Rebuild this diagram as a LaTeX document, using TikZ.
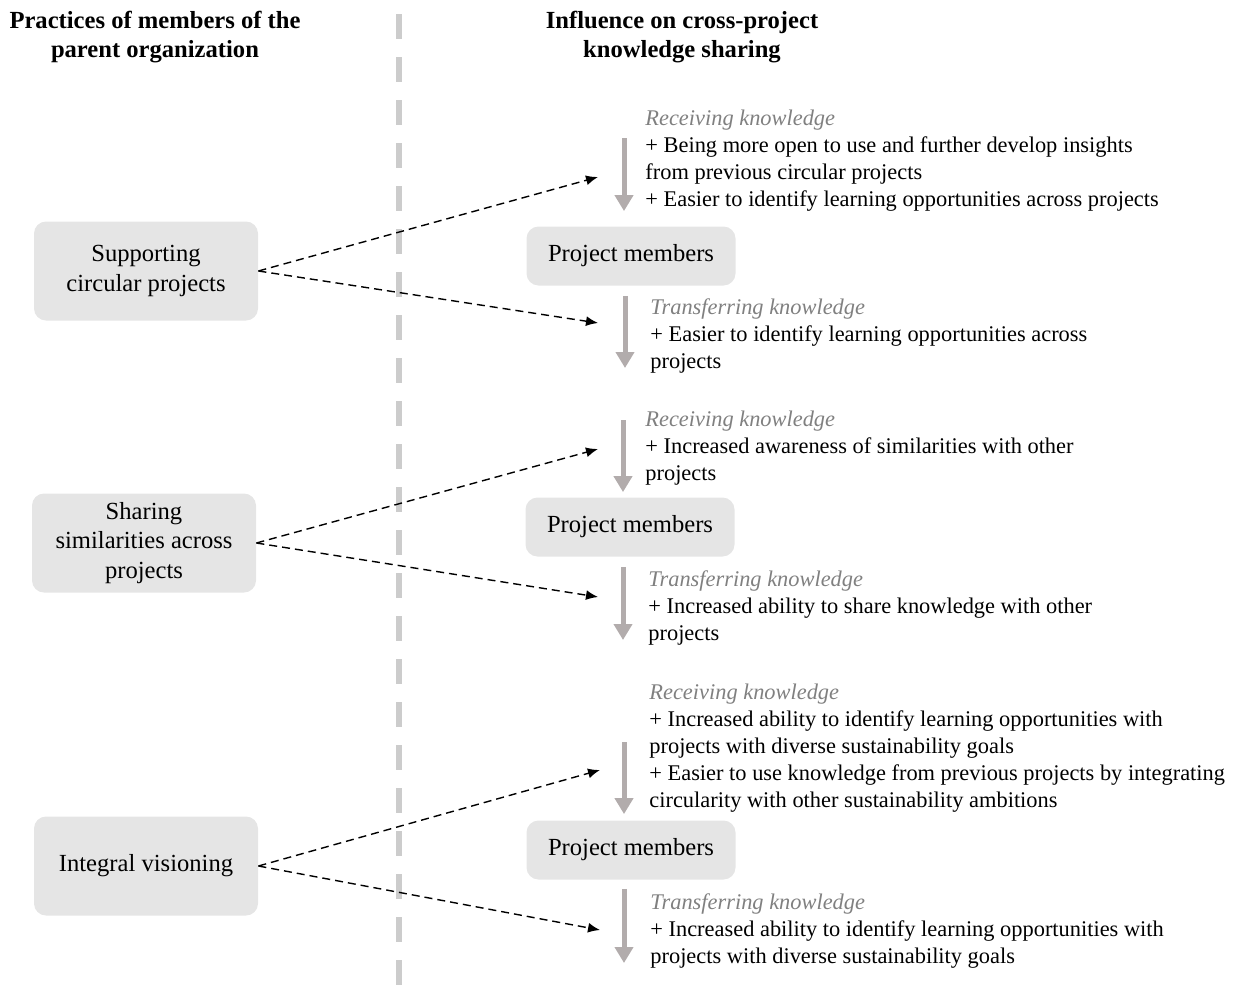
\documentclass[tikz,border=0pt]{standalone}
\usepackage{fontspec}
\setmainfont{Liberation Serif}
\usepackage{xcolor}
\usetikzlibrary{arrows.meta}
\definecolor{arrowgray}{RGB}{178,172,172}

\begin{document}
\begin{tikzpicture}[x=0.5pt,y=-0.5pt,
  txt/.style={font=\fontsize{11.2}{13.5}\selectfont},
  boxtxt/.style={font=\fontsize{12.3}{14.75}\selectfont},
  head/.style={font=\bfseries\fontsize{12.3}{14.5}\selectfont, align=center},
  practice/.style={boxtxt, fill=gray!20, rounded corners=6pt, minimum width=112pt,
    minimum height=49.5pt, align=center, inner sep=2pt},
  members/.style={boxtxt, fill=gray!20, rounded corners=6pt, minimum width=104.5pt,
    minimum height=29.5pt},
  effect/.style={txt, anchor=north west, align=left, inner sep=0pt},
  flow/.style={arrowgray, line width=2.5pt, -{Triangle[width=9pt,length=8pt]}},
  link/.style={dash pattern=on 4pt off 2.5pt, line width=0.7pt,
    -{Latex[length=6pt,width=5pt]}}]
  \useasboundingbox (0,0) rectangle (1235,985);

  % column headers
  \node[head] (hleft) at (155,37) {Practices of members of the\\parent organization};
  \node[head] (hright) at (682,37) {Influence on cross-project\\knowledge sharing};
  \draw[gray!40, line width=3pt, dash pattern=on 12.5pt off 9pt] (399,14) -- (399,985);

  % practices
  \node[practice] (sup) at (146,271) {Supporting\\circular projects};
  \node[practice] (sha) at (144,543) {Sharing\\similarities across\\projects};
  \node[practice] (vis) at (146,866) {Integral visioning};

  \node[members] (pm1) at (631,256) {Project members};
  \node[members] (pm2) at (630,527) {Project members};
  \node[members] (pm3) at (631,850) {Project members};

  % receiving / transferring flows
  \coordinate (r1) at (624,138);
  \coordinate (t1) at (625,368);
  \coordinate (r2) at (623,420);
  \coordinate (t2) at (623,640);
  \coordinate (r3) at (624,742);
  \coordinate (t3) at (624,963);
  \draw[flow, shorten >=7.5pt] (r1) -- (r1 |- pm1.north);
  \draw[flow, shorten <=5pt] (t1 |- pm1.south) -- (t1);
  \draw[flow, shorten >=2.5pt] (r2) -- (r2 |- pm2.north);
  \draw[flow, shorten <=5pt] (t2 |- pm2.south) -- (t2);
  \draw[flow, shorten >=3pt] (r3) -- (r3 |- pm3.north);
  \draw[flow, shorten <=4.5pt] (t3 |- pm3.south) -- (t3);

  % dashed influence links
  \coordinate (in1) at (598,177);
  \coordinate (out1) at (598,323);
  \coordinate (in2) at (598,449);
  \coordinate (out2) at (598,597);
  \coordinate (in3) at (600,770);
  \coordinate (out3) at (600,930);
  \draw[link] (sup.east) -- (in1);
  \draw[link] (sup.east) -- (out1);
  \draw[link] (sha.east) -- (in2);
  \draw[link] (sha.east) -- (out2);
  \draw[link] (vis.east) -- (in3);
  \draw[link] (vis.east) -- (out3);

  % effects
  \node[effect] (rec1) at (645,110) {\textcolor{gray}{\itshape Receiving knowledge}\\
    + Being more open to use and further develop insights\\
    from previous circular projects\\
    + Easier to identify learning opportunities across projects};
  \node[effect] (tra1) at (650,298) {\textcolor{gray}{\itshape Transferring knowledge}\\
    + Easier to identify learning opportunities across\\
    projects};
  \node[effect] (rec2) at (645,411) {\textcolor{gray}{\itshape Receiving knowledge}\\
    + Increased awareness of similarities with other\\
    projects};
  \node[effect] (tra2) at (648,570) {\textcolor{gray}{\itshape Transferring knowledge}\\
    + Increased ability to share knowledge with other\\
    projects};
  \node[effect] (rec3) at (649,684) {\textcolor{gray}{\itshape Receiving knowledge}\\
    + Increased ability to identify learning opportunities with\\
    projects with diverse sustainability goals\\
    + Easier to use knowledge from previous projects by integrating\\
    circularity with other sustainability ambitions};
  \node[effect] (tra3) at (650,893) {\textcolor{gray}{\itshape Transferring knowledge}\\
    + Increased ability to identify learning opportunities with\\
    projects with diverse sustainability goals};
\end{tikzpicture}
\end{document}
